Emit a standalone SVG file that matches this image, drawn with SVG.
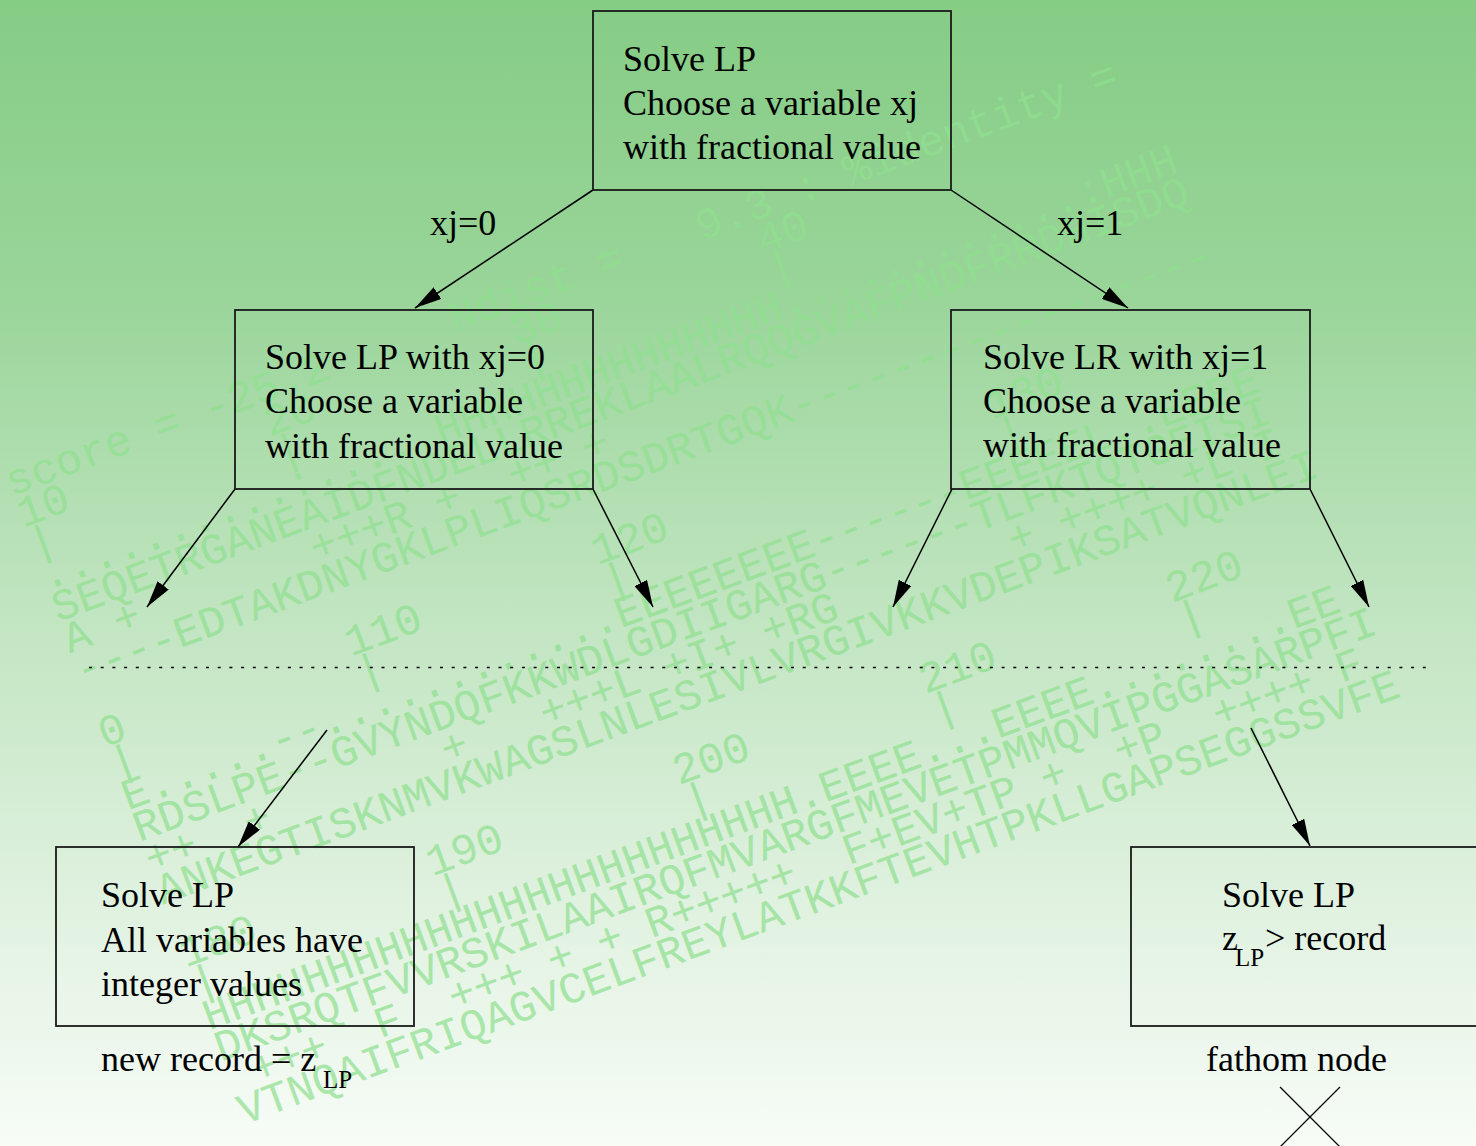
<svg xmlns="http://www.w3.org/2000/svg" width="1476" height="1146" viewBox="0 0 1476 1146">
  <defs>
    <linearGradient id="bg" x1="0" y1="0" x2="0" y2="1">
      <stop offset="0" stop-color="#85cc85"/>
      <stop offset="0.26" stop-color="#9ad59a"/>
      <stop offset="0.52" stop-color="#bfe4bf"/>
      <stop offset="0.78" stop-color="#dff1df"/>
      <stop offset="1" stop-color="#f7fcf7"/>
    </linearGradient>
    <marker id="arrow" markerUnits="userSpaceOnUse" markerWidth="28" markerHeight="14" refX="27" refY="7" orient="auto">
      <path d="M0,0 L27,7 L0,14 z" fill="#000"/>
    </marker>
    <style>
      .wm { font-family: "Liberation Mono", "DejaVu Sans Mono", monospace; font-size: 43.8px; fill: #90e090; white-space: pre; }
      .box { fill: none; stroke: #1a1a1a; stroke-width: 1.8; }
      .lbl { font-family: "Liberation Serif", "Times New Roman", serif; font-size: 36px; fill: #000; }
      .sub { font-family: "Liberation Serif", "Times New Roman", serif; font-size: 25px; fill: #000; }
      .edge { stroke: #000; stroke-width: 1.5; fill: none; }
    </style>
  </defs>

  <!-- slide background -->
  <rect x="0" y="0" width="1476" height="1146" fill="url(#bg)"/>

  <!-- faint alignment printout behind the tree -->
  <g id="watermark" transform="translate(58,622) rotate(-20.3)" xml:space="preserve" opacity="0.72">
    <text class="wm" x="0" y="-134">score = -25.2     Ndist =   9.3 : %identity =</text>
    <text class="wm" x="0" y="-100.5">10        20        30        40</text>
    <text class="wm" x="0" y="-67">|         |         |         |</text>
    <text class="wm" x="0" y="-33.5">..........:.....HHHHHHHHHHHHHH............:HHH</text>
    <text class="wm" x="0" y="0">SEQETRGANEAIDFNDELLRREKLAALRQQGVAFPNDFRRDHISDQ</text>
    <text class="wm" x="0" y="33.5">A +       +++R +  ++ +</text>
    <text class="wm" x="0" y="67">----EDTAKDNYGKLPLIQSRDSDRTGQK-----------------</text>

    <text class="wm" x="0" y="134">0         110       120             130</text>
    <text class="wm" x="0" y="167.5">|         |         |               |</text>
    <text class="wm" x="0" y="201">E.....--............EEEEEEEE------EEEEEL..EEEE</text>
    <text class="wm" x="0" y="234.5">RDSLPE--GVYNDQFKKWDLGDIIGARG------TLFKTQTGEISI</text>
    <text class="wm" x="0" y="268">++  +       +   +++L +I+ +RG       + ++++ +L I</text>
    <text class="wm" x="0" y="301.5">ANKEGTISKNMVKWAGSLNLESIVLVRGIVKKVDEPIKSATVQNLEI</text>

    <text class="wm" x="0" y="368.5">180       190       200       210       220</text>
    <text class="wm" x="0" y="402">|         |         |         |         |</text>
    <text class="wm" x="0" y="435.5">HHHHHHHHHHHHHHHHHHHHHHHH.EEEE...EEEE........EE</text>
    <text class="wm" x="0" y="469">DKSRQTFVVRSKILAAIRQFMVARGFMEVETPMMQVIPGGASARPFI</text>
    <text class="wm" x="0" y="502.5"> +++  F  +++ + + R+++++  F+EV+TP +  +P  ++++ F</text>
    <text class="wm" x="0" y="536">VTNQAIFRIQAGVCELFREYLATKKFTEVHTPKLLGAPSEGGSSVFE</text>
  </g>

  <!-- branching edges -->
  <g id="connectors">
    <line class="edge" x1="593" y1="190" x2="415" y2="308" marker-end="url(#arrow)"/>
    <line class="edge" x1="951" y1="190" x2="1128" y2="308" marker-end="url(#arrow)"/>
    <line class="edge" x1="235" y1="489" x2="147" y2="607" marker-end="url(#arrow)"/>
    <line class="edge" x1="593" y1="489" x2="653" y2="607" marker-end="url(#arrow)"/>
    <line class="edge" x1="952" y1="489" x2="893" y2="607" marker-end="url(#arrow)"/>
    <line class="edge" x1="1310" y1="489" x2="1369" y2="607" marker-end="url(#arrow)"/>
    <line class="edge" x1="327" y1="730" x2="238" y2="847" marker-end="url(#arrow)"/>
    <line class="edge" x1="1251" y1="728" x2="1310" y2="846" marker-end="url(#arrow)"/>
    <line x1="89" y1="667.5" x2="1432" y2="667.5" stroke="#000" stroke-width="1.4" stroke-dasharray="3 8.7"/>
    <text class="lbl" x="430" y="235">xj=0</text>
    <text class="lbl" x="1057" y="235">xj=1</text>
  </g>

  <g id="root">
    <rect class="box" x="593" y="11" width="358" height="179"/>
    <text class="lbl" x="623" y="71">Solve LP</text>
    <text class="lbl" x="623" y="115">Choose a variable xj</text>
    <text class="lbl" x="623" y="159">with fractional value</text>
  </g>

  <g id="branch-zero">
    <rect class="box" x="235" y="310" width="358" height="179"/>
    <text class="lbl" x="265" y="369">Solve LP with xj=0</text>
    <text class="lbl" x="265" y="413">Choose a variable</text>
    <text class="lbl" x="265" y="458">with fractional value</text>
  </g>

  <g id="branch-one">
    <rect class="box" x="951" y="310" width="359" height="179"/>
    <text class="lbl" x="983" y="369">Solve LR with xj=1</text>
    <text class="lbl" x="983" y="413">Choose a variable</text>
    <text class="lbl" x="983" y="457">with fractional value</text>
  </g>

  <g id="integer-leaf">
    <rect class="box" x="56" y="847" width="358" height="179"/>
    <text class="lbl" x="101" y="907">Solve LP</text>
    <text class="lbl" x="101" y="952">All variables have</text>
    <text class="lbl" x="101" y="996">integer values</text>
    <text class="lbl" x="101" y="1071">new record = z</text>
    <text class="sub" x="323" y="1088">LP</text>
  </g>

  <g id="fathomed-leaf">
    <rect class="box" x="1131" y="847" width="360" height="179"/>
    <text class="lbl" x="1222" y="907">Solve LP</text>
    <text class="lbl" x="1222" y="950">z</text>
    <text class="sub" x="1235" y="966">LP</text>
    <text class="lbl" x="1265" y="950">&gt; record</text>
    <text class="lbl" x="1206" y="1071">fathom node</text>
    <path d="M1280,1087 L1340,1147 M1340,1087 L1280,1147" stroke="#000" stroke-width="1.3" fill="none"/>
  </g>
</svg>
